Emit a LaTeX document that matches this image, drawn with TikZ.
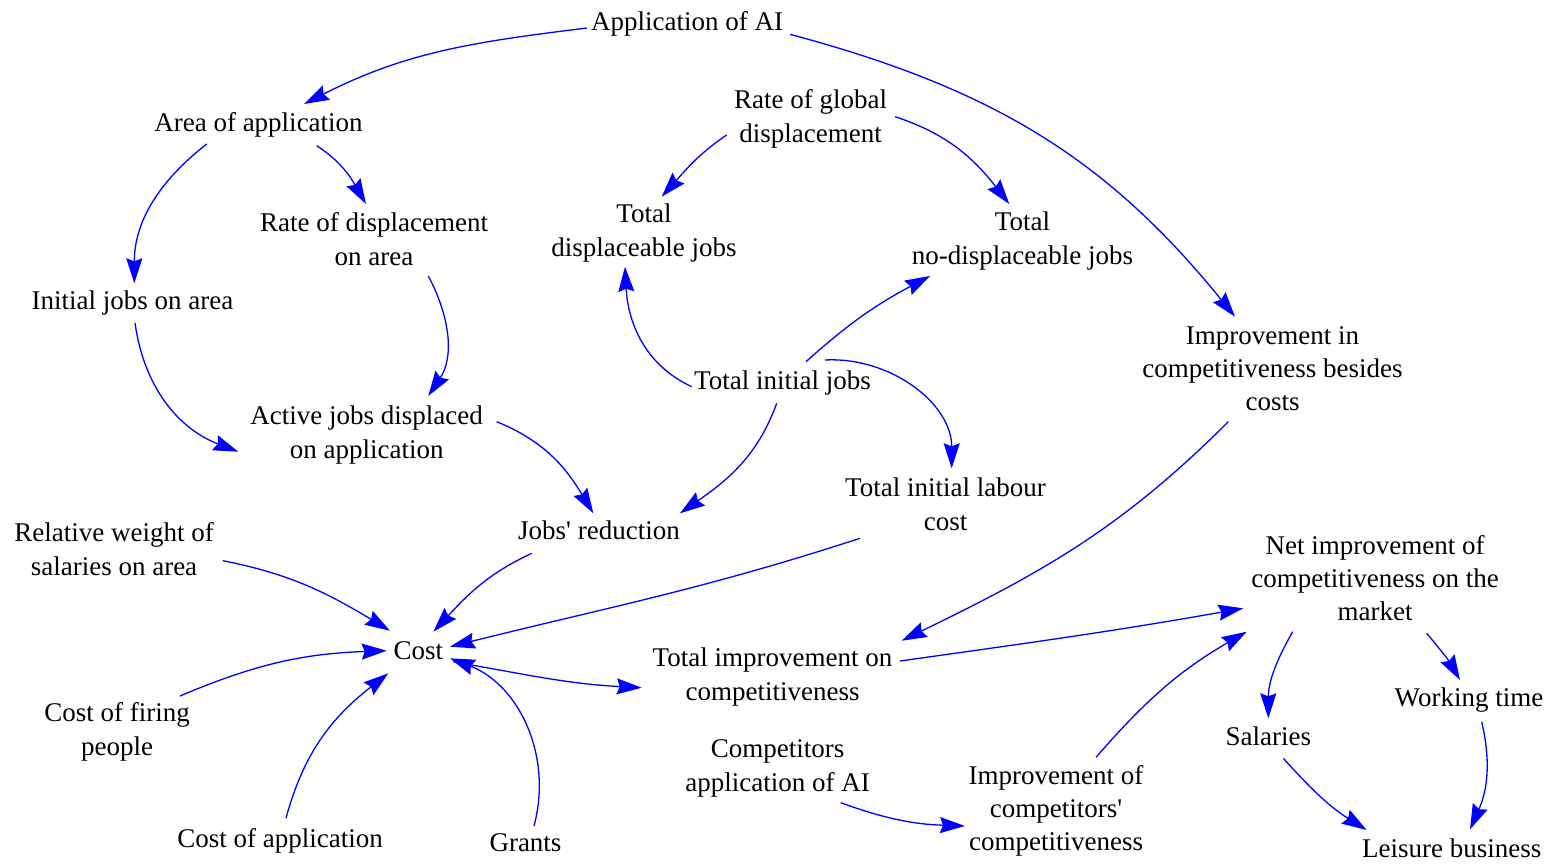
\documentclass[tikz,border=0pt]{standalone}
\usepackage{fontspec}
\setmainfont{Liberation Serif}
\usetikzlibrary{arrows.meta,calc}

\begin{document}
\begin{tikzpicture}[x=1pt,y=-1pt,
  var/.style={anchor=north, inner sep=0pt, align=center,
    font=\fontsize{27}{34}\selectfont},
  var3/.style={var, font=\fontsize{27}{33}\selectfont},
  link/.style={draw={rgb,255:red,0;green,0;blue,255}, line width=1.3pt,
    -{Stealth[length=25pt,width=16pt,inset=3pt]}}]
\useasboundingbox (0,0) rectangle (1549,864);

% variables
\node[var] (appai) at (687,11) {Application of AI};
\node[var] (area) at (258.5,112) {Area of application};
\node[var] (ratedisp) at (374,212) {Rate of displacement\\on area};
\node[var] (initjobs) at (132.5,290.5) {Initial jobs on area};
\node[var] (rateglob) at (810.5,89) {Rate of global\\displacement};
\node[var] (totdisp) at (644,204) {Total\\displaceable jobs};
\node[var] (totnodisp) at (1022.5,212) {Total\\no-displaceable jobs};
\node[var3] (impbes) at (1272.5,326.5) {Improvement in\\competitiveness besides\\costs};
\node[var] (totinit) at (782.5,371) {Total initial jobs};
\node[var] (active) at (366.7,405.5) {Active jobs displaced\\on application};
\node[var] (labour) at (945.5,477.5) {Total initial labour\\cost};
\node[var] (jobsred) at (599,521) {Jobs\textquotesingle{} reduction};
\node[var] (relw) at (114,522.5) {Relative weight of\\salaries on area};
\node[var] (cost) at (418.3,641) {Cost};
\node[var3] (netimp) at (1375,534.8) {Net improvement of\\competitiveness on the\\market};
\node[var] (totimp) at (772.5,647.5) {Total improvement on\\competitiveness};
\node[var] (firing) at (117,702.5) {Cost of firing\\people};
\node[var] (worktime) at (1469,688) {Working time};
\node[var] (salaries) at (1268.3,726.5) {Salaries};
\node[var] (compai) at (777.5,739) {Competitors\\application of AI};
\node[var3] (impcomp) at (1056,765) {Improvement of\\competitors\textquotesingle\\competitiveness};
\node[var] (costapp) at (280,828) {Cost of application};
\node[var] (grants) at (525.5,833.5) {Grants};
\node[var] (leisure) at (1451.7,838.5) {Leisure business};

% causal links
\draw[link] ($(appai.north)+(-100,17)$) to[out=187,in=27] ($(area.north)+(45.5,-8)$);
\draw[link] ($(appai.north)+(103,23.3)$) to[out=-15,in=129] ($(impbes.north)+(-37.5,-9.8)$);
\draw[link] ($(area.north)+(-51.8,32)$) to[out=218,in=90] ($(initjobs.north)+(1.8,-7.2)$);
\draw[link] ($(area.north)+(58.2,33.7)$) to[out=-33,in=120] ($(ratedisp.north)+(-8,-8)$);
\draw[link] ($(ratedisp.north)+(54.3,64)$) to[out=-62,in=56.5] ($(active.north)+(61.6,-9.5)$);
\draw[link] ($(initjobs.north)+(2.5,32.5)$) to[out=-82,in=159] ($(active.north)+(-128.4,46.2)$);
\draw[link] ($(rateglob.north)+(-83.8,46)$) to[out=214,in=48] ($(totdisp.north)+(17.7,-7.3)$);
\draw[link] ($(rateglob.north)+(84.5,27.7)$) to[out=-18,in=128] ($(totnodisp.north)+(-13.2,-8)$);
\draw[link] ($(totinit.north)+(-90.8,15.7)$) to[out=155,in=-87] ($(totdisp.north)+(-19,62.7)$);
\draw[link] ($(totinit.north)+(23.5,-9.3)$) to[out=42,in=208] ($(totnodisp.north)+(-92.5,64)$);
\draw[link] ($(totinit.north)+(42.5,-11)$) to[out=3,in=90] ($(labour.north)+(6.2,-9.2)$);
\draw[link] ($(totinit.north)+(-5.8,32.3)$) to[out=-110,in=35] ($(jobsred.north)+(81,-7.7)$);
\draw[link] ($(active.north)+(130,16.2)$) to[out=-22,in=121] ($(jobsred.north)+(-5.7,-7.7)$);
\draw[link] ($(jobsred.north)+(-67.3,32.3)$) to[out=205,in=47] ($(cost.north)+(15,-9.3)$);
\draw[link] ($(labour.north)+(-85.5,60.8)$) to[out=198,in=14] ($(cost.north)+(31.7,5.7)$);
\draw[link] ($(relw.north)+(108.7,38.2)$) to[out=-11,in=149] ($(cost.north)+(-28.3,-10.3)$);
\draw[link] ($(firing.north)+(63,-6.5)$) to[out=23,in=182] ($(cost.north)+(-31.6,9.7)$);
\draw[link] ($(costapp.north)+(6,-9.7)$) to[out=75,in=218] ($(cost.north)+(-30,32.3)$);
\draw[link] ($(grants.north)+(8.5,-7.5)$) to[out=75,in=-21] ($(cost.north)+(31.7,17.3)$);
\draw[link] ($(cost.north)+(35,20.7)$) to[out=-10,in=177] ($(totimp.north)+(-130.8,40.2)$);
\draw[link] ($(impbes.north)+(-44.2,95.2)$) to[out=-135,in=26] ($(totimp.north)+(129.2,-6.8)$);
\draw[link] ($(totimp.north)+(127.5,13.5)$) to[out=8,in=190] ($(netimp.north)+(-131.7,73.5)$);
\draw[link] ($(impcomp.north)+(40,-7.7)$) to[out=49,in=210] ($(netimp.north)+(-128.3,96.9)$);
\draw[link] ($(compai.north)+(63.2,63.7)$) to[out=-20,in=178] ($(impcomp.north)+(-91,61)$);
\draw[link] ($(netimp.north)+(-82.3,96.9)$) to[out=-120,in=90] ($(salaries.north)+(0,-8.2)$);
\draw[link] ($(netimp.north)+(51.7,98.5)$) to[out=-50,in=120] ($(worktime.north)+(-9,-8)$);
\draw[link] ($(salaries.north)+(15,31.8)$) to[out=-48,in=148] ($(leisure.north)+(-85,-8.5)$);
\draw[link] ($(worktime.north)+(12.7,33.7)$) to[out=-77,in=66] ($(leisure.north)+(18.3,-9.2)$);
\end{tikzpicture}
\end{document}
